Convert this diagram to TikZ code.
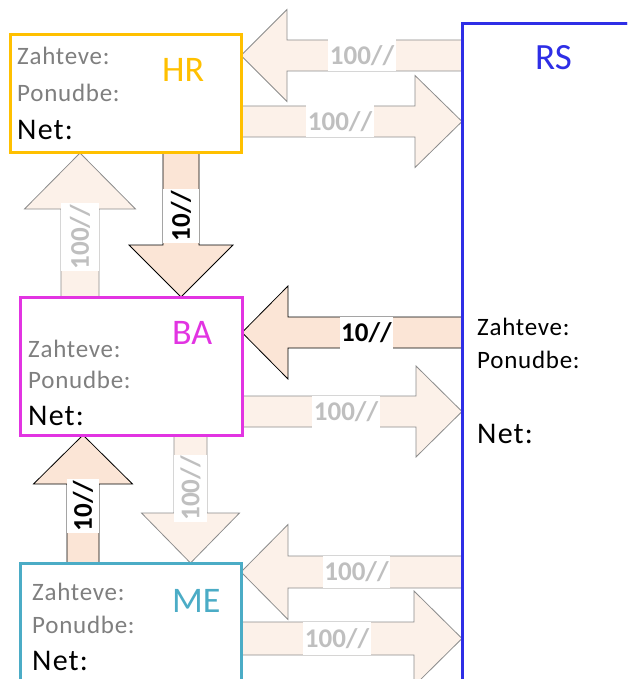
\documentclass[tikz,border=0pt]{standalone}
\usepackage{fontspec}
\setmainfont{Carlito}
\usetikzlibrary{calc}

\definecolor{hrcol}{RGB}{255,192,0}
\definecolor{bacol}{RGB}{226,52,226}
\definecolor{mecol}{RGB}{75,172,198}
\definecolor{rscol}{RGB}{46,46,230}
\definecolor{pale}{RGB}{252,241,233}
\definecolor{peach}{RGB}{251,229,214}
\definecolor{rimgray}{RGB}{140,140,140}
\definecolor{softtxt}{RGB}{127,127,127}
\definecolor{labgray}{RGB}{191,191,191}

% block arrow: #1 style, #2 tail, #3 tip, #4 shaft half width, #5 head half width, #6 head length
\newcommand\blockarrow[6]{%
  \coordinate (hb) at ($(#3)!#6!(#2)$);
  \draw[#1] ($(#2)!#4!90:(#3)$) -- ($(hb)!#4!90:(#3)$) -- ($(hb)!#5!90:(#3)$) -- (#3)
    -- ($(hb)!#5!-90:(#3)$) -- ($(hb)!#4!-90:(#3)$) -- ($(#2)!#4!-90:(#3)$) -- cycle;}

\tikzset{
  unit/.style={draw=#1, line width=3pt, fill=white, inner sep=0pt, outer sep=0pt},
  rim/.style={line width=3pt},
  palearrow/.style={fill=pale, draw=rimgray, line width=0.8pt, line join=miter},
  peacharrow/.style={fill=peach, draw=black, line width=0.8pt, line join=miter},
  field/.style={anchor=base west, inner sep=0pt, text=softtxt,
    font=\fontsize{25}{25}\selectfont\addfontfeatures{LetterSpace=3}},
  netfield/.style={anchor=base west, inner sep=0pt, text=black,
    font=\fontsize{30}{30}\selectfont\addfontfeatures{LetterSpace=4}},
  title/.style={anchor=base west, inner sep=0pt, text=#1, font=\fontsize{36}{36}\selectfont},
  lab/.style={fill=white, inner xsep=1.5pt, inner ysep=0pt, minimum height=#1,
    font=\bfseries\fontsize{27}{27}\selectfont},
  faint/.style={lab=#1, text=labgray},
  strong/.style={lab=#1, text=black}
}

\begin{document}
\begin{tikzpicture}[x=1pt,y=-1pt]
\useasboundingbox (0,0) rectangle (627,679);
\clip (0,0) rectangle (627,679);

% units
\node[unit=hrcol, minimum width=231pt, minimum height=118pt] (HR) at (125.5,94) {};
\node[unit=bacol, minimum width=222pt, minimum height=138pt] (BA) at (131,366) {};
\node[unit=mecol, minimum width=221pt, minimum height=137pt] (ME) at (130.5,631.5) {};
\node[unit=rscol, minimum width=238pt, minimum height=696pt] (RS) at (581,372) {};

% flows between units
\blockarrow{palearrow}{RS.west |- 0,55.5}{HR.east |- 0,55.5}{15.5pt}{46pt}{46pt}
\blockarrow{palearrow}{HR.east |- 0,121.5}{RS.west |- 0,121.5}{15.5pt}{46pt}{47pt}
\blockarrow{peacharrow}{181,0 |- HR.south}{181,0 |- BA.north}{18pt}{52pt}{52pt}
\blockarrow{palearrow}{80,0 |- BA.north}{80,0 |- HR.south}{19pt}{55.5pt}{56pt}
\blockarrow{peacharrow}{RS.west |- 0,332.5}{BA.east |- 0,332.5}{15.5pt}{46.5pt}{46pt}
\blockarrow{palearrow}{BA.east |- 0,411.5}{RS.west |- 0,411.5}{15.5pt}{45.5pt}{46pt}
\blockarrow{palearrow}{190.5,0 |- BA.south}{190.5,0 |- ME.north}{16.5pt}{49pt}{50pt}
\blockarrow{peacharrow}{83,0 |- ME.north}{83,0 |- BA.south}{16pt}{49.5pt}{49pt}
\blockarrow{palearrow}{RS.west |- 0,572}{ME.east |- 0,572}{16pt}{47.5pt}{47pt}
\blockarrow{palearrow}{ME.east |- 0,638.5}{RS.west |- 0,638.5}{16.5pt}{47.5pt}{48pt}

% unit borders drawn again over the arrow ends
\draw[rscol, rim] (RS.north east) -- (RS.north west) -- (RS.south west);
\draw[hrcol, rim] (HR.north west) rectangle (HR.south east);
\draw[bacol, rim] (BA.north west) rectangle (BA.south east);
\draw[mecol, rim] (ME.north west) rectangle (ME.south east);

% flow labels
\node[faint=32pt] (l1) at (362,55.5) {100//};
\node[faint=32pt] (l2) at (340,121.5) {100//};
\node[strong=36pt, rotate=90] (l3) at (181,216) {10//};
\node[faint=38pt, rotate=90] (l4) at (80,237) {100//};
\node[strong=32pt] (l5) at (366.5,332.5) {10//};
\node[faint=32pt] (l6) at (346,411.5) {100//};
\node[faint=33pt, rotate=90] (l7) at (190.5,488.5) {100//};
\node[strong=32pt, rotate=90] (l8) at (83,506) {10//};
\node[faint=32pt] (l9) at (356.5,572) {100//};
\node[faint=33pt] (l10) at (337,638.5) {100//};

% HR contents
\node[field] (hrz) at (17,65) {Zahteve:};
\node[field] (hrp) at (17,102) {Ponudbe:};
\node[netfield] (hrn) at (17,140) {Net:};
\node[title=hrcol] (hrt) at (162,82) {HR};

% BA contents
\node[field] (baz) at (28,357) {Zahteve:};
\node[field] (bap) at (28,388) {Ponudbe:};
\node[netfield] (ban) at (28,425) {Net:};
\node[title=bacol] (bat) at (172,344) {BA};

% ME contents
\node[field] (mez) at (32,600) {Zahteve:};
\node[field] (mep) at (32,633) {Ponudbe:};
\node[netfield] (men) at (32,670) {Net:};
\node[title=mecol] (met) at (172,612) {ME};

% RS contents
\node[field, text=black] (rsz) at (477,335) {Zahteve:};
\node[field, text=black] (rsp) at (477,368) {Ponudbe:};
\node[netfield] (rsn) at (477,443) {Net:};
\node[title=rscol, font=\fontsize{37}{37}\selectfont] (rst) at (535,70) {RS};
\end{tikzpicture}
\end{document}
